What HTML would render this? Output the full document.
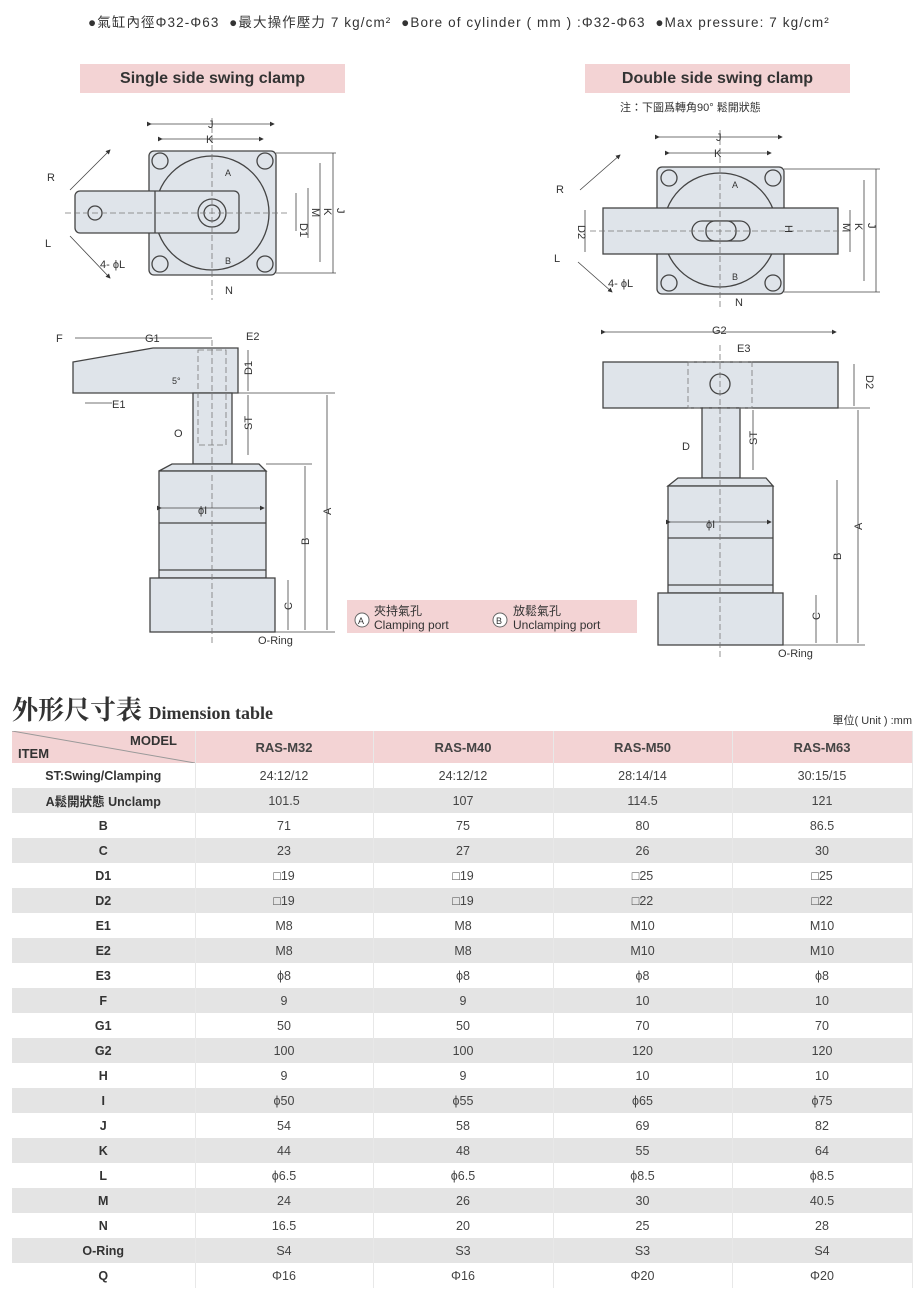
<!DOCTYPE html>
<html><head><meta charset="utf-8"><style>
body{margin:0;width:922px;height:1296px;background:#fff;position:relative;overflow:hidden;font-family:"Liberation Sans","Noto Sans CJK TC",sans-serif;color:#333}
.abs{position:absolute}
.pk{background:#f3d3d4}
table{position:absolute;left:12px;top:731px;width:900px;border-collapse:collapse;table-layout:fixed}
td{height:25px;padding:0;text-align:center;font-size:12.5px;color:#444;border-right:1px solid #e8e8e8}
td:first-child{font-weight:bold;color:#333}
tr.g td{background:#e4e4e4}
tr.h td{height:32px;background:#f3d3d4;font-weight:bold;font-size:13px}
</style></head><body>
<div class="abs" style="left:88px;top:11px;font-size:13.5px;letter-spacing:1.1px;white-space:nowrap">●氣缸內徑Φ32-Φ63 &nbsp;●最大操作壓力 7 kg/cm² &nbsp;●Bore of cylinder ( mm ) :Φ32-Φ63 &nbsp;●Max pressure: 7 kg/cm²</div>
<div class="abs pk" style="left:80px;top:64px;width:265px;height:29px;font-weight:bold;font-size:16px;line-height:29px;text-align:center">Single side swing clamp</div>
<div class="abs pk" style="left:585px;top:64px;width:265px;height:29px;font-weight:bold;font-size:16px;line-height:29px;text-align:center">Double side swing clamp</div>
<div class="abs" style="left:620px;top:99px;font-size:11px">注：下圖爲轉角90° 鬆開狀態</div>

<svg class="abs" style="left:0;top:0" width="922" height="690" font-family="Liberation Sans,sans-serif" font-size="11" fill="#333">
<defs><marker id="a" markerWidth="6" markerHeight="6" refX="5" refY="3" orient="auto"><path d="M0,0L6,3L0,6z" fill="#333"/></marker></defs>
<g stroke="#444" stroke-width="1.3" fill="#dfe4ea">
<rect x="149" y="151" width="127" height="124" rx="5"/>
<circle cx="212" cy="213" r="57"/>
<rect x="75" y="191" width="164" height="42" rx="5"/>
<line x1="155" y1="191" x2="155" y2="233"/>
<circle cx="212" cy="213" r="14"/><circle cx="212" cy="213" r="8"/>
<circle cx="95" cy="213" r="7"/>
<circle cx="160" cy="161" r="8"/><circle cx="265" cy="161" r="8"/><circle cx="160" cy="264" r="8"/><circle cx="265" cy="264" r="8"/>
<path d="M73,362L153,348L238,348L238,393L73,393z"/>
<rect x="193" y="393" width="39" height="71"/>
<path d="M172,464L259,464L266,471L159,471z"/>
<rect x="159" y="471" width="107" height="107"/>
<line x1="159" y1="523" x2="266" y2="523"/><line x1="159" y1="570" x2="266" y2="570"/>
<rect x="150" y="578" width="125" height="54"/>
<rect x="657" y="167" width="127" height="127" rx="5"/>
<circle cx="720" cy="230" r="57"/>
<rect x="603" y="208" width="235" height="46"/>
<rect x="692" y="221" width="58" height="20" rx="10"/>
<rect x="706" y="221" width="30" height="20" rx="9"/>
<circle cx="669" cy="178" r="8"/><circle cx="773" cy="178" r="8"/><circle cx="669" cy="283" r="8"/><circle cx="773" cy="283" r="8"/>
<rect x="603" y="362" width="235" height="46"/>
<circle cx="720" cy="384" r="10"/>
<rect x="702" y="408" width="38" height="70"/>
<path d="M678,478L766,478L773,486L668,486z"/>
<rect x="668" y="486" width="105" height="107"/>
<line x1="668" y1="538" x2="773" y2="538"/><line x1="668" y1="585" x2="773" y2="585"/>
<rect x="658" y="593" width="125" height="52"/>
</g>
<g stroke="#777" stroke-width="0.8" stroke-dasharray="6,3" fill="none">
<line x1="212" y1="118" x2="212" y2="300"/><line x1="65" y1="213" x2="290" y2="213"/>
<line x1="212" y1="340" x2="212" y2="645"/>
<line x1="720" y1="130" x2="720" y2="310"/><line x1="590" y1="231" x2="850" y2="231"/>
<line x1="720" y1="345" x2="720" y2="660"/>
<rect x="198" y="350" width="28" height="95"/><rect x="688" y="362" width="64" height="46"/>
</g>
<g stroke="#444" stroke-width="0.8" fill="none">
<line x1="151" y1="124" x2="274" y2="124" marker-start="url(#a)" marker-end="url(#a)"/>
<line x1="162" y1="139" x2="263" y2="139" marker-start="url(#a)" marker-end="url(#a)"/>
<line x1="296" y1="193" x2="296" y2="231"/><line x1="308" y1="188" x2="308" y2="238"/>
<line x1="320" y1="163" x2="320" y2="262"/><line x1="333" y1="153" x2="333" y2="273"/>
<line x1="276" y1="153" x2="336" y2="153"/><line x1="276" y1="273" x2="336" y2="273"/>
<line x1="70" y1="190" x2="110" y2="150" marker-end="url(#a)"/><line x1="70" y1="236" x2="110" y2="278" marker-end="url(#a)"/>
<line x1="75" y1="338" x2="212" y2="338"/><line x1="85" y1="403" x2="112" y2="403"/>
<line x1="248" y1="350" x2="248" y2="391"/><line x1="248" y1="395" x2="248" y2="455"/>
<line x1="327" y1="395" x2="327" y2="630"/><line x1="305" y1="466" x2="305" y2="630"/><line x1="288" y1="580" x2="288" y2="630"/>
<line x1="232" y1="393" x2="335" y2="393"/><line x1="266" y1="464" x2="312" y2="464"/><line x1="275" y1="632" x2="335" y2="632"/>
<line x1="161" y1="508" x2="264" y2="508" marker-start="url(#a)" marker-end="url(#a)"/>
<line x1="659" y1="137" x2="782" y2="137" marker-start="url(#a)" marker-end="url(#a)"/>
<line x1="669" y1="153" x2="771" y2="153" marker-start="url(#a)" marker-end="url(#a)"/>
<line x1="585" y1="210" x2="585" y2="252"/><line x1="850" y1="210" x2="850" y2="252"/>
<line x1="864" y1="180" x2="864" y2="281"/><line x1="876" y1="169" x2="876" y2="292"/>
<line x1="784" y1="169" x2="880" y2="169"/><line x1="784" y1="292" x2="880" y2="292"/>
<line x1="580" y1="190" x2="620" y2="155" marker-end="url(#a)"/><line x1="578" y1="262" x2="612" y2="292" marker-end="url(#a)"/>
<line x1="605" y1="332" x2="836" y2="332" marker-start="url(#a)" marker-end="url(#a)"/>
<line x1="854" y1="364" x2="854" y2="406"/><line x1="838" y1="408" x2="870" y2="408"/>
<line x1="753" y1="410" x2="753" y2="470"/><line x1="858" y1="410" x2="858" y2="643"/>
<line x1="837" y1="480" x2="837" y2="643"/><line x1="816" y1="595" x2="816" y2="643"/><line x1="783" y1="645" x2="865" y2="645"/>
<line x1="670" y1="522" x2="771" y2="522" marker-start="url(#a)" marker-end="url(#a)"/>
</g>
<g font-size="11">
<text x="208" y="128">J</text><text x="206" y="143">K</text>
<text x="47" y="181">R</text><text x="45" y="247">L</text><text x="100" y="268">4- ϕL</text>
<text x="225" y="294">N</text><text x="225" y="176" font-size="9">A</text><text x="225" y="264" font-size="9">B</text>
<text transform="translate(300,223) rotate(90)">D1</text><text transform="translate(312,208) rotate(90)">M</text>
<text transform="translate(324,208) rotate(90)">K</text><text transform="translate(337,208) rotate(90)">J</text>
<text x="56" y="342">F</text><text x="145" y="342">G1</text><text x="246" y="340">E2</text>
<text x="112" y="408">E1</text><text x="172" y="384" font-size="9">5°</text>
<text transform="translate(252,375) rotate(-90)">D1</text><text transform="translate(252,430) rotate(-90)">ST</text>
<text x="174" y="437">O</text><text x="198" y="514">ϕI</text>
<text transform="translate(331,515) rotate(-90)">A</text><text transform="translate(309,545) rotate(-90)">B</text>
<text transform="translate(292,610) rotate(-90)">C</text><text x="258" y="644">O-Ring</text>
<text x="716" y="141">J</text><text x="714" y="157">K</text>
<text x="556" y="193">R</text><text x="554" y="262">L</text><text x="608" y="287">4- ϕL</text>
<text x="735" y="306">N</text><text x="732" y="188" font-size="9">A</text><text x="732" y="280" font-size="9">B</text>
<text transform="translate(578,225) rotate(90)">D2</text><text transform="translate(785,225) rotate(90)">H</text>
<text transform="translate(843,223) rotate(90)">M</text><text transform="translate(855,223) rotate(90)">K</text>
<text transform="translate(868,223) rotate(90)">J</text>
<text x="712" y="334">G2</text><text x="737" y="352">E3</text>
<text transform="translate(866,375) rotate(90)">D2</text><text transform="translate(757,445) rotate(-90)">ST</text>
<text x="682" y="450">D</text><text x="706" y="528">ϕI</text>
<text transform="translate(862,530) rotate(-90)">A</text><text transform="translate(841,560) rotate(-90)">B</text>
<text transform="translate(820,620) rotate(-90)">C</text><text x="778" y="657">O-Ring</text>
</g>
<rect x="347" y="600" width="290" height="33" fill="#f3d3d4"/>
<g font-size="12"><circle cx="362" cy="620" r="7" fill="#fff" stroke="#666"/><text x="358" y="624" font-size="9">A</text>
<text x="374" y="615">夾持氣孔</text><text x="374" y="629">Clamping port</text>
<circle cx="500" cy="620" r="7" fill="#fff" stroke="#666"/><text x="496" y="624" font-size="9">B</text>
<text x="513" y="615">放鬆氣孔</text><text x="513" y="629">Unclamping port</text></g>
</svg>

<div class="abs" style="left:12px;top:690px;font-family:'Liberation Serif','Noto Serif CJK SC',serif;font-weight:bold;font-size:26px;white-space:nowrap">外形尺寸表 <span style="font-size:18px">Dimension table</span></div>
<div class="abs" style="right:10px;top:712px;font-size:11px">單位( Unit ) :mm</div>

<table>
<colgroup><col style="width:183px"><col style="width:178px"><col style="width:180px"><col style="width:179px"><col style="width:180px"></colgroup>
<tr class="h"><td style="position:relative;text-align:left"><svg style="position:absolute;left:0;top:0" width="183" height="32"><line x1="0" y1="0" x2="183" y2="32" stroke="#999"/></svg><span style="position:absolute;left:118px;top:2px">MODEL</span><span style="position:absolute;left:6px;top:15px">ITEM</span></td><td>RAS-M32</td><td>RAS-M40</td><td>RAS-M50</td><td>RAS-M63</td></tr>
<tr><td>ST:Swing/Clamping</td><td>24:12/12</td><td>24:12/12</td><td>28:14/14</td><td>30:15/15</td></tr>
<tr class="g"><td>A鬆開狀態 Unclamp</td><td>101.5</td><td>107</td><td>114.5</td><td>121</td></tr>
<tr><td>B</td><td>71</td><td>75</td><td>80</td><td>86.5</td></tr>
<tr class="g"><td>C</td><td>23</td><td>27</td><td>26</td><td>30</td></tr>
<tr><td>D1</td><td>□19</td><td>□19</td><td>□25</td><td>□25</td></tr>
<tr class="g"><td>D2</td><td>□19</td><td>□19</td><td>□22</td><td>□22</td></tr>
<tr><td>E1</td><td>M8</td><td>M8</td><td>M10</td><td>M10</td></tr>
<tr class="g"><td>E2</td><td>M8</td><td>M8</td><td>M10</td><td>M10</td></tr>
<tr><td>E3</td><td>ϕ8</td><td>ϕ8</td><td>ϕ8</td><td>ϕ8</td></tr>
<tr class="g"><td>F</td><td>9</td><td>9</td><td>10</td><td>10</td></tr>
<tr><td>G1</td><td>50</td><td>50</td><td>70</td><td>70</td></tr>
<tr class="g"><td>G2</td><td>100</td><td>100</td><td>120</td><td>120</td></tr>
<tr><td>H</td><td>9</td><td>9</td><td>10</td><td>10</td></tr>
<tr class="g"><td>I</td><td>ϕ50</td><td>ϕ55</td><td>ϕ65</td><td>ϕ75</td></tr>
<tr><td>J</td><td>54</td><td>58</td><td>69</td><td>82</td></tr>
<tr class="g"><td>K</td><td>44</td><td>48</td><td>55</td><td>64</td></tr>
<tr><td>L</td><td>ϕ6.5</td><td>ϕ6.5</td><td>ϕ8.5</td><td>ϕ8.5</td></tr>
<tr class="g"><td>M</td><td>24</td><td>26</td><td>30</td><td>40.5</td></tr>
<tr><td>N</td><td>16.5</td><td>20</td><td>25</td><td>28</td></tr>
<tr class="g"><td>O-Ring</td><td>S4</td><td>S3</td><td>S3</td><td>S4</td></tr>
<tr><td>Q</td><td>Φ16</td><td>Φ16</td><td>Φ20</td><td>Φ20</td></tr>
</table>
</body></html>
